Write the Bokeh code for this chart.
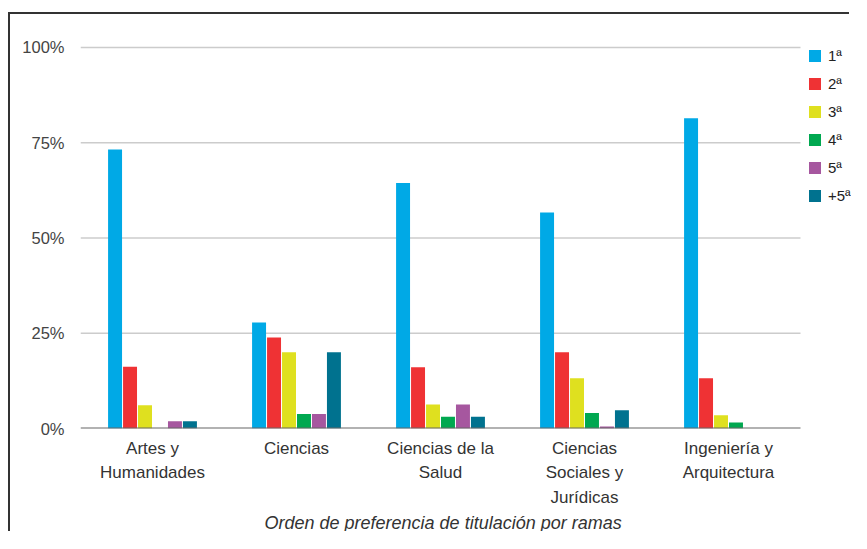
from bokeh.plotting import figure
from bokeh.models import (ColumnDataSource, Range1d, Legend, LegendItem, NumeralTickFormatter,
                          FixedTicker, Title)
from bokeh.transform import dodge
from bokeh.embed import file_html
from bokeh.resources import INLINE

categories = ["Artes y\nHumanidades", "Ciencias", "Ciencias de la\nSalud",
              "Ciencias\nSociales y\nJurídicas", "Ingeniería y\nArquitectura"]
series_names = ["1ª", "2ª", "3ª", "4ª", "5ª", "+5ª"]
s1 = [73.2, 27.8, 64.4, 56.7, 81.4]
s2 = [16.2, 23.9, 16.1, 20.0, 13.2]
s3 = [6.1, 20.0, 6.3, 13.2, 3.5]
s4 = [0.0, 3.8, 3.1, 4.1, 1.6]
s5 = [1.9, 3.8, 6.3, 0.5, 0.0]
s6 = [1.9, 20.0, 3.1, 4.8, 0.0]
colors = ["#00a9e6", "#ef3234", "#dfe01f", "#00a850", "#a6579f", "#00728f"]
yticks = [0, 25, 50, 75, 100]
x_title = "Orden de preferencia de titulación por ramas"

n = len(categories)
xpos = [i + 0.5 for i in range(n)]
series = [s1, s2, s3, s4, s5, s6]
data = {"x": xpos}
for i, s in enumerate(series):
    data["s%d" % i] = [v / 100.0 for v in s]
source = ColumnDataSource(data)

W, H = 841, 519
MB_T, MB_B, MB_L, MB_R = 31, 103, 70, 0
plot_px = 720.0                     # width of the category area in px
frame_w = W - MB_L - MB_R
x_end = n * frame_w / plot_px

p = figure(x_range=Range1d(0, x_end), y_range=Range1d(0, 1.005),
           width=W, height=H, output_backend="svg", toolbar_location=None,
           min_border_left=MB_L, min_border_right=MB_R, min_border_top=MB_T, min_border_bottom=MB_B,
           styles={"margin-left": "8px", "margin-top": "12px",
                   "border-top": "2px solid #333333", "border-left": "2px solid #333333"})

# horizontal gridlines across the category area only
gy = [t / 100.0 for t in yticks[1:]]
p.segment(x0=[0] * len(gy), x1=[n] * len(gy), y0=gy, y1=gy,
          line_color="#cccccc", line_width=1.5)

step = 0.104
width = 0.097
items = []
for i, name in enumerate(series_names):
    r = p.vbar(x=dodge("x", (i - 2.5) * step), top="s%d" % i,
               width=width, source=source, fill_color=colors[i], line_color=None)
    items.append(LegendItem(label=name, renderers=[r]))

# baseline
p.segment(x0=[0], x1=[n], y0=[0], y1=[0], line_color="#666666", line_width=2)

frame_h = H - MB_T - MB_B
leg_h = 6 * 17 + 5 * 11
legend = Legend(items=items, location=(727, frame_h - 4 - leg_h), border_line_color=None,
                background_fill_alpha=0, padding=0, margin=0, spacing=11,
                glyph_width=15, glyph_height=15, label_height=15, label_standoff=6,
                label_text_font="Liberation Sans", label_text_font_size="15px",
                label_text_color="#222222")
p.add_layout(legend, "center")

p.outline_line_color = None
p.xgrid.grid_line_color = None
p.ygrid.grid_line_color = None
p.yaxis.ticker = FixedTicker(ticks=[t / 100.0 for t in yticks])
p.yaxis.formatter = NumeralTickFormatter(format="0%")
p.yaxis.axis_line_color = None
p.yaxis.major_tick_line_color = None
p.yaxis.minor_tick_line_color = None
p.yaxis.major_tick_out = 0
p.yaxis.major_label_text_font = "Liberation Sans"
p.yaxis.major_label_text_font_size = "16.5px"
p.yaxis.major_label_text_color = "#444444"
p.yaxis.major_label_standoff = 16

p.xaxis.ticker = FixedTicker(ticks=xpos)
p.xaxis.major_label_overrides = {x: c for x, c in zip(xpos, categories)}
p.xaxis.axis_line_color = None
p.xaxis.major_tick_line_color = None
p.xaxis.minor_tick_line_color = None
p.xaxis.major_tick_out = 0
p.xaxis.major_tick_in = 0
p.xaxis.major_label_text_font = "Liberation Sans"
p.xaxis.major_label_text_font_size = "17px"
p.xaxis.major_label_text_line_height = 1.3
p.xaxis.major_label_text_color = "#333333"
p.xaxis.major_label_standoff = 10

title = Title(text=x_title, align="left", offset=184,
              text_font="Liberation Sans", text_font_size="18px",
              text_font_style="italic", text_color="#333333", standoff=2)
p.add_layout(title, "below")

open("out.html", "w").write(file_html(p, INLINE))
